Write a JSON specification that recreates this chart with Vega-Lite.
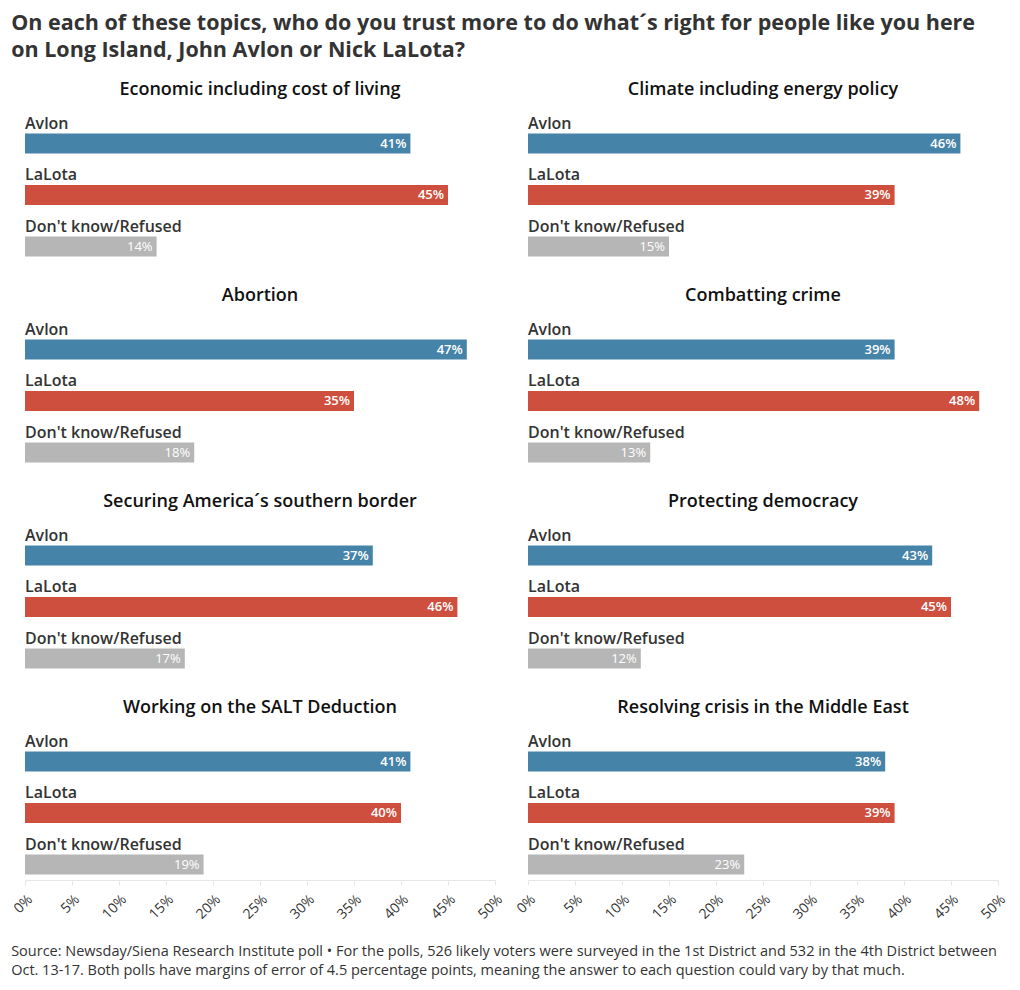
{
  "$schema": "https://vega.github.io/schema/vega-lite/v6.json",
  "background": "white",
  "padding": {"left": 11, "top": 12, "right": 10, "bottom": 10},
  "config": {"view": {"stroke": null}, "font": "Open Sans", "concat": {"spacing": 0}},
  "title": {
    "text": ["On each of these topics, who do you trust more to do what´s right for people like you here", "on Long Island, John Avlon or Nick LaLota?"],
    "anchor": "start", "fontSize": 21.5, "font": "Open Sans", "fontWeight": "bold", "color": "#333333", "lineHeight": 27, "offset": 21, "dy": 1
  },
  "vconcat": [
    {
      "title": {
        "text": ["Source: Newsday/Siena Research Institute poll • For the polls, 526 likely voters were surveyed in the 1st District and 532 in the 4th District between", "Oct. 13-17. Both polls have margins of error of 4.5 percentage points, meaning the answer to each question could vary by that much."],
        "orient": "bottom", "anchor": "start", "fontSize": 14.5, "fontWeight": "normal", "font": "Open Sans", "color": "#333333", "lineHeight": 19, "offset": 24
      },
      "data": {"values": [
        {"topic": "Economic including cost of living", "answer": "Avlon", "value": 0.41},
        {"topic": "Economic including cost of living", "answer": "LaLota", "value": 0.45},
        {"topic": "Economic including cost of living", "answer": "Don't know/Refused", "value": 0.14},
        {"topic": "Climate including energy policy", "answer": "Avlon", "value": 0.46},
        {"topic": "Climate including energy policy", "answer": "LaLota", "value": 0.39},
        {"topic": "Climate including energy policy", "answer": "Don't know/Refused", "value": 0.15},
        {"topic": "Abortion", "answer": "Avlon", "value": 0.47},
        {"topic": "Abortion", "answer": "LaLota", "value": 0.35},
        {"topic": "Abortion", "answer": "Don't know/Refused", "value": 0.18},
        {"topic": "Combatting crime", "answer": "Avlon", "value": 0.39},
        {"topic": "Combatting crime", "answer": "LaLota", "value": 0.48},
        {"topic": "Combatting crime", "answer": "Don't know/Refused", "value": 0.13},
        {"topic": "Securing America´s southern border", "answer": "Avlon", "value": 0.37},
        {"topic": "Securing America´s southern border", "answer": "LaLota", "value": 0.46},
        {"topic": "Securing America´s southern border", "answer": "Don't know/Refused", "value": 0.17},
        {"topic": "Protecting democracy", "answer": "Avlon", "value": 0.43},
        {"topic": "Protecting democracy", "answer": "LaLota", "value": 0.45},
        {"topic": "Protecting democracy", "answer": "Don't know/Refused", "value": 0.12},
        {"topic": "Working on the SALT Deduction", "answer": "Avlon", "value": 0.41},
        {"topic": "Working on the SALT Deduction", "answer": "LaLota", "value": 0.40},
        {"topic": "Working on the SALT Deduction", "answer": "Don't know/Refused", "value": 0.19},
        {"topic": "Resolving crisis in the Middle East", "answer": "Avlon", "value": 0.38},
        {"topic": "Resolving crisis in the Middle East", "answer": "LaLota", "value": 0.39},
        {"topic": "Resolving crisis in the Middle East", "answer": "Don't know/Refused", "value": 0.23}
      ]},
      "facet": {
        "field": "topic", "type": "nominal",
        "sort": ["Economic including cost of living", "Climate including energy policy", "Abortion", "Combatting crime", "Securing America´s southern border", "Protecting democracy", "Working on the SALT Deduction", "Resolving crisis in the Middle East"],
        "header": {"title": null, "labelFontSize": 18, "labelFontWeight": 600, "labelColor": "#111111", "labelFont": "Open Sans", "labelPadding": 8}
      },
      "columns": 2,
      "spacing": {"row": 25, "column": 33},
      "spec": {
        "width": 470,
        "height": 154.5,
        "encoding": {
          "y": {"field": "answer", "type": "nominal", "sort": ["Avlon", "LaLota", "Don't know/Refused"], "axis": null, "scale": {"paddingInner": 0, "paddingOuter": 0}}
        },
        "layer": [
          {
            "mark": {"type": "bar", "height": 20, "yOffset": 10.75},
            "encoding": {
              "x": {"field": "value", "type": "quantitative", "scale": {"domain": [0, 0.5]},
                "axis": {"format": ".0%", "values": [0, 0.05, 0.1, 0.15, 0.2, 0.25, 0.3, 0.35, 0.4, 0.45, 0.5], "labelAngle": -45, "labelFontSize": 14, "labelColor": "#333333", "labelFont": "Open Sans", "grid": false, "domainColor": "#e6e6e6", "tickColor": "#e6e6e6", "tickSize": 5, "title": null, "labelPadding": 7}},
              "color": {"field": "answer", "type": "nominal", "scale": {"domain": ["Avlon", "LaLota", "Don't know/Refused"], "range": ["#4683a8", "#cf4f3e", "#b6b6b6"]}, "legend": null}
            }
          },
          {
            "transform": [{"filter": {"field": "answer", "oneOf": ["Avlon", "LaLota"]}}],
            "mark": {"type": "text", "align": "right", "dx": -4, "yOffset": 11, "color": "white", "fontSize": 13, "fontWeight": 600},
            "encoding": {"x": {"field": "value", "type": "quantitative"}, "text": {"field": "value", "format": ".0%"}}
          },
          {
            "transform": [{"filter": {"field": "answer", "oneOf": ["Don't know/Refused"]}}],
            "mark": {"type": "text", "align": "right", "dx": -4, "yOffset": 11, "color": "white", "fontSize": 13, "fontWeight": "normal"},
            "encoding": {"x": {"field": "value", "type": "quantitative"}, "text": {"field": "value", "format": ".0%"}}
          },
          {
            "mark": {"type": "text", "align": "left", "yOffset": -9, "fontSize": 16, "fontWeight": 600, "color": "#333333"},
            "encoding": {"x": {"datum": 0}, "text": {"field": "answer"}}
          }
        ]
      }
    }
  ]
}
